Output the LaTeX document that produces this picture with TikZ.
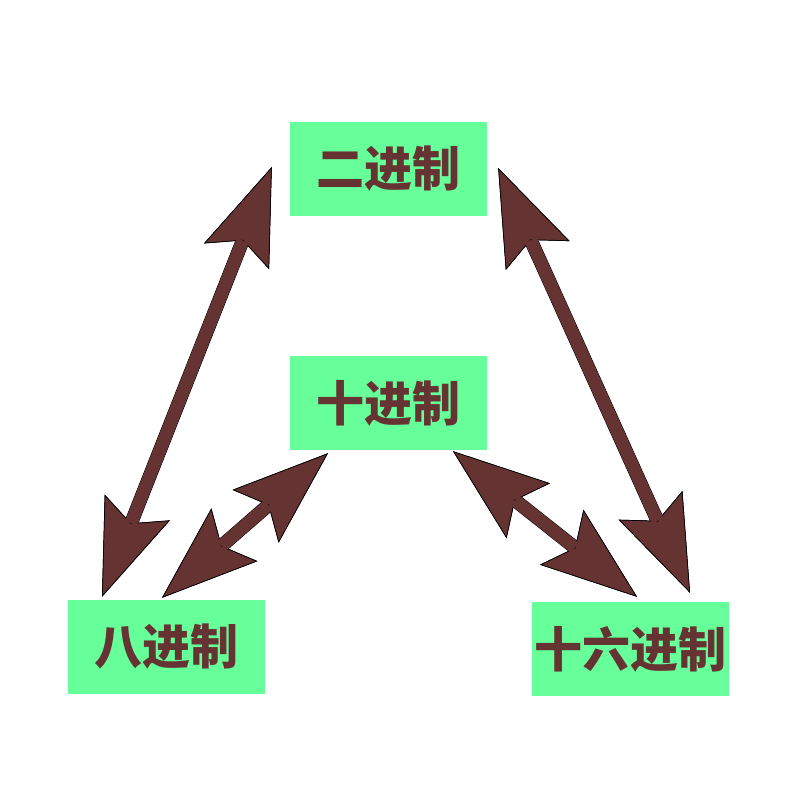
\documentclass[tikz,border=0pt]{standalone}
\usepackage{fontspec}
\newfontfamily\cjk{Noto Sans CJK SC}
\usetikzlibrary{arrows.meta,calc}
\definecolor{boxg}{HTML}{66FF99}
\definecolor{arr}{HTML}{663333}
\tikzset{
  box/.style={fill=boxg, minimum width=197pt, minimum height=94pt, inner sep=0pt,
    text=arr, font=\cjk\bfseries\fontsize{48}{52}\selectfont},
  bigtip/.tip={Stealth[length=96pt,width=70pt,inset=17pt,line width=0.7pt,fill=arr,color=black]},
  conn/.style={bigtip-bigtip, draw=arr, line width=12.5pt,
    preaction={draw=black, line width=13.8pt},
    postaction={draw=arr, line width=12.5pt, arrows=-, shorten <=79pt, shorten >=79pt}}
}
\begin{document}
\begin{tikzpicture}[x=1pt,y=-1pt]
\useasboundingbox (0,0) rectangle (800,800);
\node[box] (er) at (388.5,169) {二进制};
\node[box] (shi) at (388.5,403) {十进制};
\node[box] (ba) at (166.5,647) {八进制};
\node[box] (sl) at (630.5,649) {十六进制};
\draw[conn] ($(ba.north)+(-64.5,-3)$) -- ($(er.west)+(-18,-2)$);
\draw[conn] ($(er.east)+(11,-1)$) -- ($(sl.north)+(59.5,-9)$);
\draw[conn] ($(shi.south)+(-60.5,3)$) -- ($(ba.north)+(-4.5,-2)$);
\draw[conn] ($(shi.south)+(64.5,1)$) -- ($(sl.north)+(6.5,-5)$);
\end{tikzpicture}
\end{document}
